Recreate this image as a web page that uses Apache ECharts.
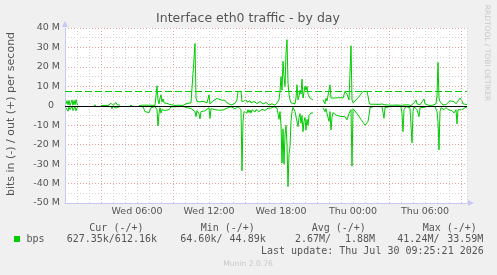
<!DOCTYPE html>
<html>
<head>
<meta charset="utf-8">
<script src="https://cdn.jsdelivr.net/npm/echarts@6/dist/echarts.min.js"></script>
<style>
    html, body { margin: 0; padding: 0; background: #f0f0f0; }
    #main { width: 497px; height: 275px; }
</style>
</head>
<body>
<div id="main"></div>
<script>
// sample times, minutes since Wed 00:00 (null rows = no data)
var sampleMinutes = [
    5, 10, 15, 20, 25, 30, 35, 40, 45, 50, 55, 60, 65,
    105, 145, 155, 165,
    180, 195, 205, 215, 225, 230, 235, 240, 250, 255, 260, 265, 275,
    300, 325, 335, 350,
    370, 380, 390, 400, 410, 420, 430, 440, 450, 455, 460, 465,
    470, 475, 480, 485, 490, 495, 500, 510, 520, 530, 540, 550,
    560, 570, 580, 590, 600, 610, 620, 630, 640, 650, 655, 660,
    670, 675, 680, 690, 700, 710, 720, 725, 730, 740, 750, 760,
    770, 780, 790, 800, 810, 820, 830, 840, 850, 860, 865, 875,
    880, 885, 890, 895,
    905, 910, 915, 920, 925, 930, 935, 940, 945, 950, 955, 960,
    965, 970, 975, 980, 985, 990, 995, 1000, 1005, 1010, 1015, 1020,
    1025, 1030, 1035, 1040, 1045, 1050, 1055, 1060, 1065, 1070, 1075,
    1080, 1085, 1090, 1095, 1100, 1105, 1110, 1115, 1120, 1125, 1130, 1135,
    1140, 1150, 1155, 1160, 1165, 1170, 1175, 1180, 1185, 1190, 1195, 1200,
    1205, 1210, 1215, 1220, 1225, 1230, 1235, 1240, 1265, 1290, 1295, 1300,
    1305, 1310, 1315, 1320, 1325, 1330, 1335, 1340, 1350, 1360, 1370, 1380,
    1390, 1400, 1410, 1420, 1430, 1435, 1440, 1450, 1460, 1470, 1480, 1490,
    1500, 1510, 1515, 1520, 1525, 1535, 1545, 1555, 1565, 1575, 1585, 1590,
    1595, 1600, 1610, 1620, 1630, 1640, 1650, 1660, 1670, 1680, 1685, 1690,
    1695, 1705, 1715, 1725, 1730, 1735, 1740, 1745, 1755, 1760, 1770, 1775,
    1785, 1795, 1800, 1810, 1820, 1830, 1840, 1850, 1855, 1860, 1865, 1870,
    1875, 1880, 1885, 1890, 1895, 1905, 1915, 1925, 1935, 1945, 1955, 1960,
    1965, 1975, 1985, 1990, 2000, 2010
];
// out (+), Mbit/s
var outMbps = [
    1.0, 2.6, 0.5, 2.8, 0.2, 1.5, 3.0, 0.3, 2.7, 0.5, 3.2, 1.0, 0.3,
    null, 0.2, 0.3, null,
    0.1, 0.2, 0.6, 0.1, 0.3, 1.3, 0.3, 0.2, 0.5, 1.7, 0.6, 1.5, 0.3,
    null, 0.1, 0.2, null,
    0.1, 0.2, 0.3, 0.2, 0.3, 0.2, 0.3, 0.4, 0.2, 1.0, 10.3, 3.0,
    1.0, 4.0, 5.6, 2.0, 3.5, 1.5, 2.5, 1.2, 2.2, 0.5, 0.4, 0.2,
    0.6, 0.3, 0.4, 0.2, 0.5, 1.2, 1.3, 1.5, 2.2, 32.0, 4.0, 2.2,
    2.3, 2.0, 2.2, 2.3, 2.0, 1.5, 5.6, 1.0, 1.5, 2.5, 3.2, 3.8,
    3.5, 3.0, 3.4, 2.8, 1.5, 0.6, 0.4, 0.6, 1.2, 3.0, 7.4, 7.4,
    7.4, 2.0, 1.5, 2.2,
    3.0, 1.8, 2.8, 1.2, 2.6, 1.5, 2.4, 1.0, 2.2, 1.4, 2.5, 1.2,
    2.0, 1.0, 2.2, 1.3, 1.9, 0.9, 1.6, 0.8, 1.7, 0.7, 1.2, 0.4,
    0.9, 0.3, 1.0, 0.4, 0.8, 0.3, 0.8, 1.5, 1.5, 3.0, 7.4,
    15.0, 8.0, 22.8, 15.0, 10.0, 27.0, 34.0, 12.0, 6.0, 3.0, 1.5, 1.0,
    0.5, 1.0, 4.0, 10.8, 3.0, 5.0, 8.0, 6.0, 13.7, 4.0, 7.0, 10.0,
    8.0, 10.0, 6.0, 7.0, 4.0, 5.0, 3.5, 3.0, null, 3.0, 2.0, 1.0,
    3.9, 2.5, 3.5, 3.0, 10.8, 4.0, 3.0, 3.5, 4.0, 3.9, 4.2, 3.5,
    4.0, 7.3, 6.0, 3.0, 30.9, 3.0, 1.5, 2.0, 3.5, 4.5, 6.0, 7.4,
    7.4, 7.4, 5.0, 2.0, 0.8, 0.5, 0.8, 0.4, 0.7, 0.5, 0.9, 0.3,
    0.2, 0.5, 0.4, 0.3, 0.2, 0.3, 0.2, 0.4, 0.3, 0.2, 0.1, 0.2,
    0.4, 0.3, 0.5, 0.2, 0.1, 0.2, 0.5, 1.5, 3.0, 1.0, 0.3, 0.5,
    1.5, 3.5, 1.0, 0.3, 0.2, 0.4, 0.3, 0.5, 1.0, 5.0, 22.3, 4.0,
    2.0, 1.0, 2.0, 0.5, 1.5, 0.6, 1.5, 2.5, 3.0, 2.2, 1.0, 0.5,
    2.0, 3.9, 2.5, 1.0, 0.8, 0.61
];
// in (-), Mbit/s, stored positive
var inMbps = [
    1.0, 0.3, 2.8, 0.5, 2.0, 3.0, 0.4, 2.5, 3.2, 0.5, 2.6, 1.2, 0.4,
    null, 0.1, 0.2, null,
    0.2, 0.1, 0.3, 0.2, 0.5, 0.4, 1.5, 0.3, 0.4, 1.2, 0.8, 1.5, 0.2,
    null, 0.1, 0.1, null,
    0.2, 0.2, 0.5, 3.0, 3.8, 3.5, 1.0, 0.3, 0.4, 1.0, 2.0, 10.4,
    4.0, 1.0, 3.8, 2.0, 3.0, 1.5, 2.4, 1.4, 2.0, 0.5, 0.3, 0.5,
    0.2, 0.4, 0.2, 0.3, 0.6, 1.0, 1.2, 1.4, 1.8, 3.0, 5.6, 2.5,
    4.0, 6.8, 3.0, 3.0, 2.6, 2.0, 1.0, 6.5, 1.5, 1.8, 2.0, 2.5,
    2.3, 2.0, 2.2, 1.8, 1.2, 0.8, 0.5, 0.4, 1.5, 1.0, 0.5, 0.5,
    2.0, 33.4, 8.0, 3.0,
    2.5, 3.8, 2.0, 3.5, 2.2, 3.8, 2.0, 3.0, 1.8, 3.2, 2.0, 2.8,
    1.6, 3.0, 2.0, 2.6, 1.8, 2.6, 1.6, 2.4, 1.5, 2.2, 1.2, 1.8,
    0.8, 1.2, 0.6, 1.0, 0.5, 0.9, 0.8, 1.2, 2.0, 7.0, 3.0,
    10.0, 29.4, 12.0, 30.0, 15.0, 10.0, 20.0, 41.6, 25.0, 21.0, 8.0, 3.0,
    0.8, 3.0, 2.0, 3.0, 10.7, 6.0, 4.0, 9.0, 5.0, 13.3, 8.0, 6.0,
    12.5, 7.0, 10.0, 5.0, 4.0, 3.7, 4.5, 3.7, null, 1.0, 2.0, 3.0,
    1.5, 4.0, 5.0, 8.0, 3.0, 12.4, 6.0, 3.5, 4.5, 5.0, 4.0, 5.5,
    6.5, 5.6, 7.2, 4.0, 2.0, 31.0, 1.5, 2.5, 4.0, 5.5, 7.0, 8.5,
    10.0, 10.7, 8.0, 5.0, 1.0, 0.5, 0.3, 0.6, 0.4, 0.8, 0.5, 1.5,
    6.4, 1.0, 0.3, 0.5, 0.2, 0.4, 0.3, 0.2, 0.4, 0.5, 4.0, 13.3,
    2.0, 0.4, 0.3, 1.0, 10.0, 19.0, 3.0, 0.5, 0.4, 2.0, 5.6, 1.0,
    0.5, 0.8, 0.5, 0.4, 0.3, 0.3, 0.5, 0.4, 1.0, 3.0, 8.0, 22.7,
    3.0, 1.0, 1.5, 0.8, 2.0, 0.8, 2.0, 3.0, 2.5, 3.7, 2.0, 9.3,
    2.0, 1.5, 2.0, 3.0, 1.0, 0.63
];
var dashedLevel = 7.4;                      // green dashed rule, Mbit/s
var majorGridMinutes = [180, 540, 900, 1260, 1620, 1980];
var labelMinutes = [360, 720, 1080, 1440, 1800];
var timeLabels = ['Wed 06:00', 'Wed 12:00', 'Wed 18:00', 'Thu 00:00', 'Thu 06:00'];
var legendHeads = ['Cur (-/+)', 'Min (-/+)', 'Avg (-/+)', 'Max (-/+)'];
var legendIn = ['627.35k/612.16k', '64.60k/', '2.67M/', '41.24M/'];
var legendOut = ['', '44.89k', '1.88M', '33.59M'];

var GREEN = '#00cc00',
    TEXT = '#555',
    SANS = 'DejaVu Sans',
    MONO = "10px 'DejaVu Sans Mono'";

var chart = echarts.init(document.getElementById('main'));

function pairs(list, sign) {
    return sampleMinutes.map(function (m, i) {
        return [m, list[i] === null ? null : sign * list[i]];
    });
}

function txt(x, y, text, font, fill, align, extra) {
    var el = {
        type: 'text', x: x, y: y, silent: true,
        style: {
            text: text, font: font, fill: fill,
            align: align || 'left', verticalAlign: 'middle',
            textAlign: align || 'left', textVerticalAlign: 'middle'
        }
    };
    if (extra) { for (var k in extra) el[k] = extra[k]; }
    return el;
}

// legend / footer texts placed like rrdtool does
var graphics = [
    txt(248, 19, 'Interface eth0 traffic - by day', '12.5px ' + SANS, TEXT, 'center'),
    txt(11, 114, 'bits in (-) / out (+) per second', '11px ' + SANS, TEXT, 'center', { rotation: Math.PI / 2 }),
    txt(487, 53, 'RRDTOOL / TOBI OETIKER', '7.5px ' + SANS, '#c8c8c8', 'center', { rotation: -Math.PI / 2 }),
    { type: 'rect', shape: { x: 14, y: 236, width: 6, height: 6 }, style: { fill: GREEN }, silent: true },
    txt(26.5, 239, 'bps', MONO, TEXT),
    txt(261, 251, 'Last update: Thu Jul 30 09:25:21 2026', MONO, TEXT),
    txt(248, 264, 'Munin 2.0.76', '7.6px ' + SANS, '#c8c8c8', 'center')
];
var headX = [89.3, 200.7, 311.7, 422.7],
    inX = [66.7, 180.3, 295, 397.3],
    outX = [0, 265.7, 375, 483.3];
for (var i = 0; i < legendHeads.length; i++) {
    graphics.push(txt(headX[i], 228, legendHeads[i], MONO, TEXT));
    graphics.push(txt(inX[i], 239, legendIn[i], MONO, TEXT));
    if (legendOut[i]) graphics.push(txt(outX[i], 239, legendOut[i], MONO, TEXT, 'right'));
}

var option = {
    animation: false,
    backgroundColor: '#f0f0f0',
    grid: { left: 65, right: 30, top: 28, bottom: 72, show: true, backgroundColor: '#fff', borderWidth: 0 },
    xAxis: {
        type: 'value', min: 0, max: 2010, interval: 60,
        axisLine: { onZero: false, lineStyle: { color: '#c8c8f4' }, symbol: ['none', 'triangle'], symbolSize: [6, 6], symbolOffset: [0, 4] },
        axisTick: { show: false },
        axisLabel: {
            interval: 0, margin: 4, color: TEXT, fontFamily: SANS, fontSize: 9.5,
            formatter: function (v) {
                var k = labelMinutes.indexOf(v);
                return k >= 0 ? timeLabels[k] : '';
            }
        },
        splitLine: { lineStyle: { color: '#d2d2d2', type: [1, 2], width: 1 } }
    },
    yAxis: {
        type: 'value', min: -50, max: 40, interval: 10,
        axisLine: { show: true, lineStyle: { color: '#c8c8f4' }, symbol: ['none', 'triangle'], symbolSize: [6, 6], symbolOffset: [0, 4] },
        axisTick: { show: false },
        axisLabel: {
            margin: 5, color: TEXT, fontFamily: SANS, fontSize: 9.5,
            formatter: function (v) { return v === 0 ? '0  ' : v + ' M'; }
        },
        splitLine: { lineStyle: { color: '#eaa0a0', type: [1, 2], width: 1 } },
        minorTick: { show: false, splitNumber: 2 },
        minorSplitLine: { show: true, lineStyle: { color: '#d2d2d2', type: [1, 2], width: 1 } }
    },
    graphic: graphics,
    series: [
        {
            // major (red) vertical grid, every 6h offset by 3h
            type: 'line', data: [], z: 1, silent: true,
            markLine: {
                symbol: 'none', silent: true, label: { show: false },
                lineStyle: { color: '#eaa0a0', type: [1, 2], width: 1 },
                data: majorGridMinutes.map(function (m) { return { xAxis: m }; })
            }
        },
        {
            name: 'out', type: 'line', data: pairs(outMbps, 1), z: 3,
            showSymbol: false, connectNulls: false, silent: true,
            lineStyle: { color: GREEN, width: 1 }
        },
        {
            name: 'in', type: 'line', data: pairs(inMbps, -1), z: 3,
            showSymbol: false, connectNulls: false, silent: true,
            lineStyle: { color: GREEN, width: 1 }
        },
        {
            type: 'line', data: [], z: 4, silent: true,
            markLine: {
                symbol: 'none', silent: true, label: { show: false },
                data: [
                    { yAxis: dashedLevel, lineStyle: { color: GREEN, type: [7, 3], width: 1 } },
                    { yAxis: 0, lineStyle: { color: '#000', type: 'solid', width: 1 } }
                ]
            }
        }
    ]
};

chart.setOption(option);
</script>
</body>
</html>
